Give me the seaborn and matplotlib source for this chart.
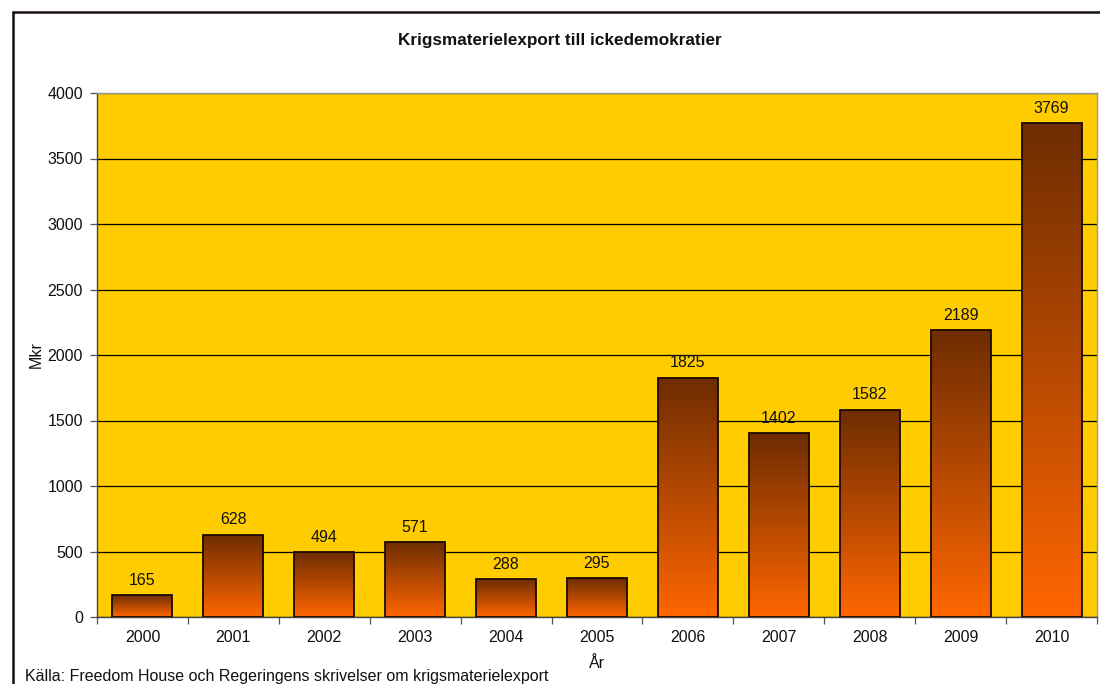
import matplotlib
matplotlib.use("Agg")
import matplotlib.pyplot as plt
import seaborn as sns
import numpy as np
import pandas as pd
from matplotlib.colors import LinearSegmentedColormap
from matplotlib.lines import Line2D

years = ["2000", "2001", "2002", "2003", "2004", "2005", "2006", "2007", "2008", "2009", "2010"]
values = [165, 628, 494, 571, 288, 295, 1825, 1402, 1582, 2189, 3769]
title = "Krigsmaterielexport till ickedemokratier"
source = "Källa: Freedom House och Regeringens skrivelser om krigsmaterielexport"

sns.set_theme(style="white")
plt.rcParams['font.family'] = ['Liberation Sans', 'DejaVu Sans']

df = pd.DataFrame({"År": years, "Mkr": values})

fig = plt.figure(figsize=(11, 6.84), dpi=100)
ax = fig.add_axes([97/1100, 1-617/684, 1000/1100, 524/684])
ax.set_facecolor("#FFCC00")

sns.barplot(data=df, x="År", y="Mkr", ax=ax, color="#FF6600", width=0.66,
            edgecolor="#1a0a00", linewidth=1.3, zorder=3, saturation=1)

cmap = LinearSegmentedColormap.from_list("g", ["#FF6600", "#6E2C00"])
grad = np.linspace(0, 1, 256).reshape(-1, 1)
for p in ax.patches:
    x0, y0 = p.get_x(), p.get_y()
    w, h = p.get_width(), p.get_height()
    im = ax.imshow(grad, cmap=cmap, origin="lower", aspect="auto",
                   extent=[x0, x0 + w, y0, y0 + h], zorder=3.5)
    im.set_clip_path(p)
    p.set_facecolor("none")
    p.set_zorder(4)

for i, v in enumerate(values):
    ax.annotate(str(v), xy=(i, v), xytext=(0, 5.5), textcoords="offset points",
                ha="center", va="bottom", fontsize=11.5, color="#111111")

ax.set_xlim(-0.5, len(years) - 0.5)
ax.set_ylim(0, 4000)
ax.set_yticks(np.arange(0, 4001, 500))
ax.yaxis.grid(True, color="#000000", linewidth=0.9)
ax.set_axisbelow(True)
for g in ax.get_ygridlines():
    g.set_zorder(1)

ax.set_xticks(np.arange(-0.5, len(years), 1), minor=True)
ax.tick_params(axis="x", which="major", length=0, labelsize=11.5, pad=9, colors="#111111")
ax.tick_params(axis="x", which="minor", length=5, width=0.9, color="#555555", direction="out", bottom=True)
ax.tick_params(axis="y", which="major", length=5, width=0.9, color="#555555", direction="out",
               labelsize=11.5, pad=5, labelcolor="#111111", left=True)

ax.set_xlabel("År", fontsize=11.5, labelpad=8, color="#111111")
ax.set_ylabel("Mkr", fontsize=11.5, labelpad=3, color="#111111")

for s in ["top", "right"]:
    ax.spines[s].set_color("#999999")
    ax.spines[s].set_linewidth(1.0)
for s in ["left", "bottom"]:
    ax.spines[s].set_color("#444444")
    ax.spines[s].set_linewidth(1.0)

fig.text(560/1100, 1-41/684, title, ha="center", va="center", fontsize=12.3,
         fontweight="bold", color="#111111")
fig.text(25/1100, 1-676/684, source, ha="left", va="center", fontsize=11.5, color="#111111")

fig.add_artist(Line2D([13/1100, 13/1100], [0, 1-12/684], color="#1a1010", linewidth=1.8,
                      transform=fig.transFigure))
fig.add_artist(Line2D([13/1100, 1], [1-12/684, 1-12/684], color="#1a1010", linewidth=1.8,
                      transform=fig.transFigure))

fig.savefig("out.png", dpi=100)
